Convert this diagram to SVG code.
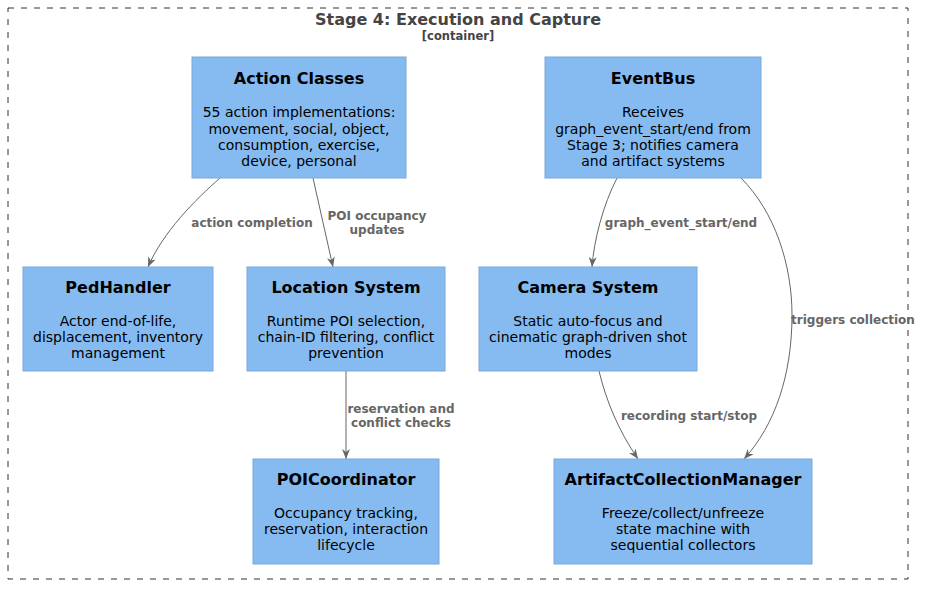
<svg xmlns="http://www.w3.org/2000/svg" width="930" height="592" viewBox="0 0 930 592">
<defs>
<style>
.box{fill:#85BBF0;stroke:#78A8D8;stroke-width:1}
.t{font-family:"DejaVu Sans",sans-serif;font-weight:bold;font-size:16px;fill:#000;text-anchor:middle}
.b{font-family:"DejaVu Sans",sans-serif;font-size:14px;fill:#000;text-anchor:middle}
.e{fill:none;stroke:#666;stroke-width:1}
.l{font-family:"DejaVu Sans",sans-serif;font-weight:bold;font-size:12px;fill:#666;text-anchor:middle}
</style>
<marker id="arr" viewBox="0 0 10 8" refX="10" refY="4" markerWidth="10" markerHeight="8" markerUnits="userSpaceOnUse" orient="auto">
<path d="M0,0 L10,4 L0,8 L3,4 z" fill="#666"/>
</marker>
</defs>
<rect width="930" height="592" fill="#fff"/>
<g id="container">
<rect x="8" y="8" width="900" height="571" fill="none" stroke="#333" stroke-width="1" stroke-dasharray="6,7"/>
<text x="458" y="25" style="font-family:'DejaVu Sans',sans-serif;font-weight:bold;font-size:16px;fill:#444" text-anchor="middle">Stage 4: Execution and Capture</text>
<text x="458" y="39.5" style="font-family:'DejaVu Sans',sans-serif;font-weight:bold;font-size:11.5px;fill:#444" text-anchor="middle">[container]</text>
</g>
<g id="connectors">
<path class="e" marker-end="url(#arr)" d="M220,178 C195,200 163,232 148,267"/>
<text class="l" x="252" y="227">action completion</text>
<path class="e" marker-end="url(#arr)" d="M313,178 L333,267"/>
<text class="l" x="377" y="220">POI occupancy</text>
<text class="l" x="377" y="234">updates</text>
<path class="e" marker-end="url(#arr)" d="M617,178 C603,205 594,240 592,267"/>
<text class="l" x="681" y="227">graph_event_start/end</text>
<path class="e" marker-end="url(#arr)" d="M741,178 C775,212 792,265 792,315 C792,375 775,425 744,459"/>
<text class="l" x="853" y="324">triggers collection</text>
<path class="e" marker-end="url(#arr)" d="M346,371 L346,459"/>
<text class="l" x="401" y="413">reservation and</text>
<text class="l" x="401" y="427">conflict checks</text>
<path class="e" marker-end="url(#arr)" d="M599,371 C606,400 618,430 638,459"/>
<text class="l" x="689" y="420">recording start/stop</text>
</g>
<g id="action-classes">
<rect class="box" x="192" y="57" width="214" height="121"/>
<text class="t" x="299" y="84">Action Classes</text>
<text class="b" x="299" y="117">55 action implementations:</text>
<text class="b" x="299" y="133.5">movement, social, object,</text>
<text class="b" x="299" y="150">consumption, exercise,</text>
<text class="b" x="299" y="166">device, personal</text>
</g>
<g id="eventbus">
<rect class="box" x="545" y="57" width="216" height="121"/>
<text class="t" x="653" y="84">EventBus</text>
<text class="b" x="653" y="117">Receives</text>
<text class="b" x="653" y="133.5">graph_event_start/end from</text>
<text class="b" x="653" y="150">Stage 3; notifies camera</text>
<text class="b" x="653" y="166">and artifact systems</text>
</g>
<g id="pedhandler">
<rect class="box" x="23" y="267" width="190" height="104"/>
<text class="t" x="118" y="293">PedHandler</text>
<text class="b" x="118" y="326">Actor end-of-life,</text>
<text class="b" x="118" y="342">displacement, inventory</text>
<text class="b" x="118" y="358">management</text>
</g>
<g id="location-system">
<rect class="box" x="247" y="267" width="198" height="104"/>
<text class="t" x="346" y="293">Location System</text>
<text class="b" x="346" y="326">Runtime POI selection,</text>
<text class="b" x="346" y="342">chain-ID filtering, conflict</text>
<text class="b" x="346" y="358">prevention</text>
</g>
<g id="camera-system">
<rect class="box" x="479" y="267" width="218" height="104"/>
<text class="t" x="588" y="293">Camera System</text>
<text class="b" x="588" y="326">Static auto-focus and</text>
<text class="b" x="588" y="342">cinematic graph-driven shot</text>
<text class="b" x="588" y="358">modes</text>
</g>
<g id="poicoordinator">
<rect class="box" x="253" y="459" width="186" height="105"/>
<text class="t" x="346" y="485">POICoordinator</text>
<text class="b" x="346" y="518">Occupancy tracking,</text>
<text class="b" x="346" y="534">reservation, interaction</text>
<text class="b" x="346" y="550">lifecycle</text>
</g>
<g id="artifact-collection-manager">
<rect class="box" x="554" y="459" width="258" height="105"/>
<text class="t" x="683" y="485">ArtifactCollectionManager</text>
<text class="b" x="683" y="518">Freeze/collect/unfreeze</text>
<text class="b" x="683" y="534">state machine with</text>
<text class="b" x="683" y="550">sequential collectors</text>
</g>
</svg>
